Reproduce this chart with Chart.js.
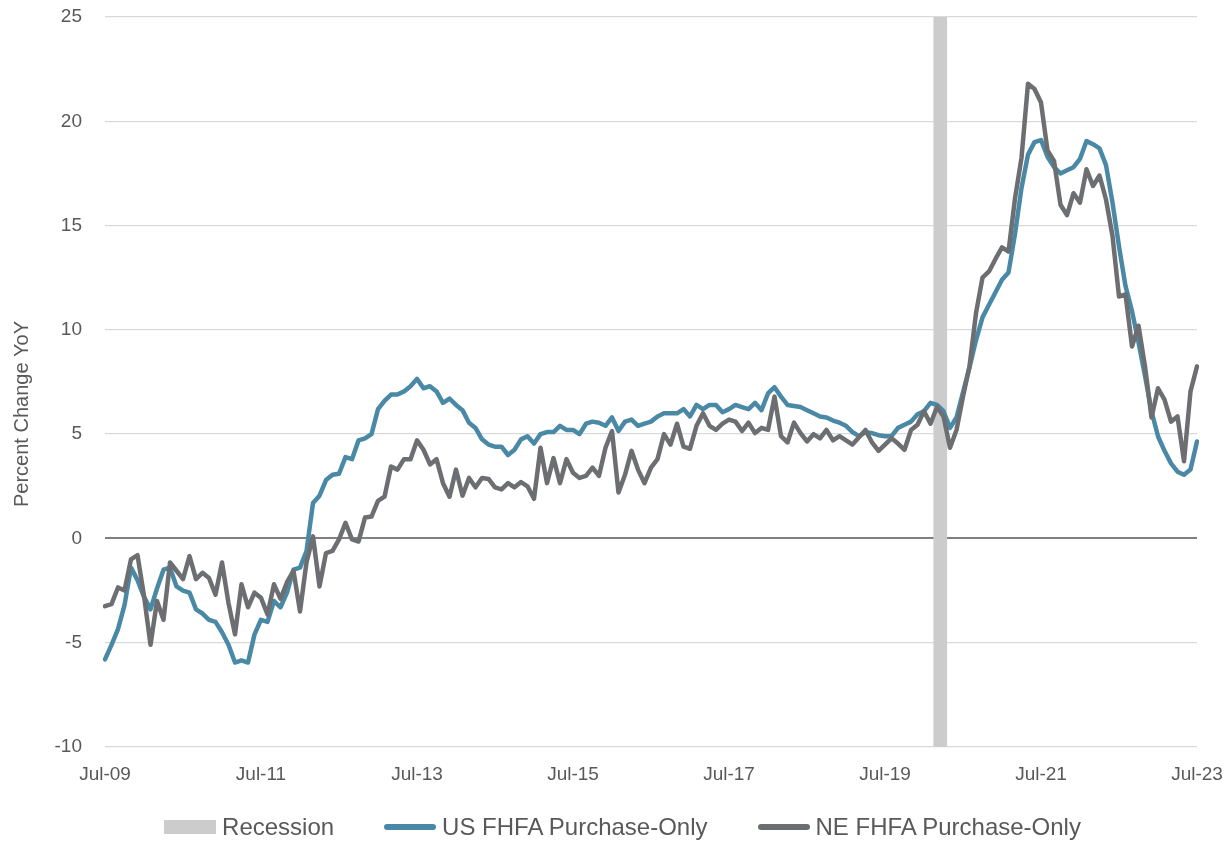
<!DOCTYPE html>
<html>
<head>
<meta charset="utf-8">
<script src="https://cdn.jsdelivr.net/npm/chart.js@4.4.0/dist/chart.umd.min.js"></script>
<style>
  html, body { margin: 0; padding: 0; background: #fff; }
  #wrap { position: relative; width: 1229px; height: 843px; }
  #legend {
    position: absolute; left: 8px; top: 812px; width: 1229px; height: 30px;
    display: flex; justify-content: center; align-items: center;
    font-family: 'Liberation Sans', Arial, sans-serif; font-size: 24px; color: #595959;
  }
  .item { display: flex; align-items: center; margin: 0 25px; white-space: nowrap; }
  .swatch { width: 52px; margin-right: 6px; }
</style>
</head>
<body>
<div id="wrap">
  <canvas id="chart" width="1229" height="843"></canvas>
  <div id="legend"></div>
</div>
<script>
// monthly, Jul-09 .. Jul-23
const startYear = 2009;
const startMonth = 6; // July (0-based)
const monthCount = 169;
const monthNames = ['Jan', 'Feb', 'Mar', 'Apr', 'May', 'Jun', 'Jul', 'Aug', 'Sep', 'Oct', 'Nov', 'Dec'];

const recessionMonths = ['Mar-20', 'Apr-20'];

const usFhfa = [
    -5.8, -5.1, -4.35, -3.2, -1.4, -2.0, -2.8, -3.4, -2.4, -1.5, -1.4, -2.3,
    -2.5, -2.6, -3.4, -3.6, -3.9, -4.0, -4.5, -5.1, -5.95, -5.85, -5.95, -4.6,
    -3.9, -4.0, -3.0, -3.3, -2.6, -1.5, -1.4, -0.6, 1.7, 2.05, 2.8, 3.05,
    3.1, 3.9, 3.8, 4.7, 4.8, 5.0, 6.2, 6.6, 6.9, 6.9, 7.05, 7.3,
    7.65, 7.2, 7.3, 7.05, 6.5, 6.7, 6.4, 6.15, 5.55, 5.3, 4.75, 4.5,
    4.4, 4.4, 4.0, 4.25, 4.75, 4.9, 4.55, 5.0, 5.1, 5.1, 5.4, 5.2,
    5.2, 5.0, 5.5, 5.6, 5.55, 5.4, 5.8, 5.15, 5.6, 5.7, 5.4, 5.5,
    5.6, 5.85, 6.0, 6.0, 6.0, 6.2, 5.85, 6.4, 6.2, 6.4, 6.4, 6.05,
    6.2, 6.4, 6.3, 6.2, 6.5, 6.15, 6.95, 7.25, 6.8, 6.4, 6.35, 6.3,
    6.15, 6.0, 5.85, 5.8, 5.65, 5.55, 5.4, 5.1, 4.9, 5.1, 5.05, 4.95,
    4.9, 4.9, 5.3, 5.45, 5.6, 5.95, 6.1, 6.5, 6.4, 6.1, 5.3, 5.8,
    7.0, 8.2, 9.5, 10.6, 11.2, 11.8, 12.4, 12.75, 14.6, 16.8, 18.4, 19.0,
    19.1, 18.3, 17.8, 17.5, 17.65, 17.8, 18.2, 19.05, 18.9, 18.7, 17.9, 16.1,
    14.0, 12.1, 10.9, 9.4, 7.8, 6.1, 4.9, 4.2, 3.6, 3.2, 3.05, 3.3,
    4.65
];

const neFhfa = [
    -3.25, -3.15, -2.35, -2.5, -1.0, -0.8, -2.75, -5.1, -3.0, -3.9, -1.15, -1.55,
    -1.95, -0.85, -1.95, -1.65, -1.9, -2.7, -1.15, -3.1, -4.6, -2.2, -3.3, -2.6,
    -2.85, -3.65, -2.2, -2.9, -2.1, -1.55, -3.5, -1.15, 0.1, -2.3, -0.7, -0.6,
    -0.05, 0.75, -0.05, -0.15, 1.0, 1.05, 1.8, 2.0, 3.45, 3.3, 3.8, 3.8,
    4.7, 4.25, 3.55, 3.8, 2.65, 2.0, 3.3, 2.05, 2.9, 2.45, 2.9, 2.85,
    2.45, 2.35, 2.65, 2.45, 2.7, 2.5, 1.9, 4.35, 2.65, 3.85, 2.65, 3.8,
    3.15, 2.9, 3.0, 3.4, 3.0, 4.35, 5.15, 2.2, 3.05, 4.2, 3.3, 2.65,
    3.4, 3.8, 5.0, 4.5, 5.5, 4.4, 4.3, 5.4, 6.0, 5.4, 5.2, 5.5,
    5.7, 5.6, 5.15, 5.55, 5.05, 5.3, 5.2, 6.8, 4.9, 4.6, 5.55, 5.05,
    4.65, 5.0, 4.8, 5.2, 4.7, 4.9, 4.7, 4.5, 4.85, 5.2, 4.6, 4.2,
    4.5, 4.8, 4.55, 4.25, 5.2, 5.45, 6.1, 5.5, 6.3, 5.85, 4.35, 5.2,
    6.8, 8.25, 10.8, 12.5, 12.8, 13.4, 13.95, 13.75, 16.3, 18.25, 21.8, 21.55,
    20.9, 18.6, 18.1, 16.0, 15.5, 16.55, 16.1, 17.7, 16.9, 17.4, 16.25, 14.5,
    11.6, 11.7, 9.2, 10.2, 8.25, 5.8, 7.2, 6.65, 5.6, 5.85, 3.7, 7.05,
    8.25
];

const yMin = -10;
const yMax = 25;
const yAxisTitle = 'Percent Change YoY';
const tickEvery = 24; // show Jul of odd years

const months = [];
for (let i = 0; i < monthCount; i++) {
    const m = (startMonth + i) % 12;
    const y = startYear + Math.floor((startMonth + i) / 12);
    months.push(monthNames[m] + '-' + String(y % 100).padStart(2, '0'));
}

const recessionData = months.map(m => recessionMonths.includes(m) ? [yMin, yMax] : null);

const FONT = "'Liberation Sans', Arial, sans-serif";
const TEXT = '#595959';
const BLUE = '#4a89a6';
const GREY = '#6d6e71';
const SHADE = '#cccccc';

Chart.defaults.font.family = FONT;
Chart.defaults.color = TEXT;

// y title drawn a bit below the axis centre, as in the source
const yTitlePlugin = {
    id: 'yTitle',
    afterDraw(chart) {
        const ctx = chart.ctx;
        ctx.save();
        ctx.translate(22, 414);
        ctx.rotate(-Math.PI / 2);
        ctx.font = '20px ' + FONT;
        ctx.fillStyle = TEXT;
        ctx.textAlign = 'center';
        ctx.textBaseline = 'middle';
        ctx.fillText(yAxisTitle, 0, 0);
        ctx.restore();
    }
};

const chart = new Chart(document.getElementById('chart'), {
    type: 'line',
    data: {
        labels: months,
        datasets: [
            {
                type: 'bar',
                label: 'Recession',
                data: recessionData,
                backgroundColor: SHADE,
                borderWidth: 0,
                barPercentage: 1,
                categoryPercentage: 1,
                order: 3
            },
            {
                label: 'US FHFA Purchase-Only',
                data: usFhfa,
                borderColor: BLUE,
                borderWidth: 4.5,
                pointRadius: 0,
                tension: 0,
                borderJoinStyle: 'round',
                borderCapStyle: 'round',
                order: 2
            },
            {
                label: 'NE FHFA Purchase-Only',
                data: neFhfa,
                borderColor: GREY,
                borderWidth: 4.5,
                pointRadius: 0,
                tension: 0,
                borderJoinStyle: 'round',
                borderCapStyle: 'round',
                order: 1
            }
        ]
    },
    options: {
        responsive: false,
        animation: false,
        layout: { padding: { top: 17, right: 32, bottom: 0, left: 0 } },
        plugins: {
            legend: { display: false },
            tooltip: { enabled: false }
        },
        scales: {
            x: {
                type: 'category',
                offset: false,
                grid: { display: false, offset: false },
                border: { display: false },
                afterFit: (scale) => {
                    scale.height = 96;
                    scale.paddingLeft = 0;
                    scale.paddingRight = 0;
                },
                ticks: {
                    autoSkip: false,
                    maxRotation: 0,
                    padding: 8,
                    font: { size: 19 },
                    color: TEXT,
                    callback: function (value, index) {
                        return index % tickEvery === 0 ? this.getLabelForValue(value) : '';
                    }
                }
            },
            y: {
                min: yMin,
                max: yMax,
                afterFit: (scale) => {
                    scale.width = 105;
                    scale.paddingTop = 0;
                    scale.paddingBottom = 0;
                },
                border: { display: false },
                grid: {
                    drawTicks: false,
                    color: (ctx) => ctx.tick && ctx.tick.value === 0 ? '#808080' : '#d9d9d9',
                    lineWidth: (ctx) => ctx.tick && ctx.tick.value === 0 ? 2 : 1.3
                },
                ticks: {
                    stepSize: 5,
                    padding: 23,
                    font: { size: 19 },
                    color: TEXT
                }
            }
        }
    },
    plugins: [yTitlePlugin]
});

// legend below the plot, built from the datasets
const legendEl = document.getElementById('legend');
chart.data.datasets.forEach(ds => {
    const item = document.createElement('div');
    item.className = 'item';
    const sw = document.createElement('span');
    sw.className = 'swatch';
    if (ds.type === 'bar') {
        sw.style.height = '14px';
        sw.style.background = ds.backgroundColor;
    } else {
        sw.style.height = '6px';
        sw.style.borderRadius = '3px';
        sw.style.background = ds.borderColor;
    }
    const txt = document.createElement('span');
    txt.textContent = ds.label;
    item.appendChild(sw);
    item.appendChild(txt);
    legendEl.appendChild(item);
});
</script>
</body>
</html>
